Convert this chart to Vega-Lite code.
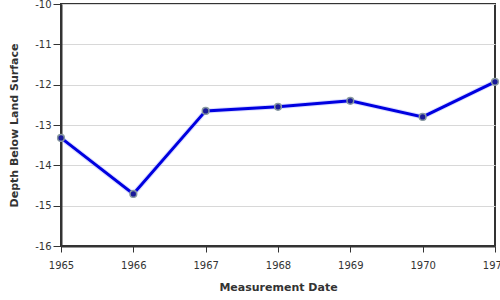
{
  "$schema": "https://vega.github.io/schema/vega-lite/v6.json",
  "autosize": "none",
  "width": 434,
  "height": 242,
  "padding": {"left": 61, "top": 4, "right": 5, "bottom": 54},
  "background": "white",
  "config": {
    "font": "DejaVu Sans",
    "view": {"stroke": "#333333", "strokeWidth": 2},
    "axis": {
      "labelFont": "DejaVu Sans",
      "labelFontSize": 10,
      "labelColor": "#333333",
      "titleFont": "DejaVu Sans",
      "titleFontSize": 11,
      "titleFontWeight": "bold",
      "titleColor": "#333333",
      "domainColor": "#333333",
      "domainWidth": 2,
      "tickColor": "#333333",
      "tickWidth": 1
    }
  },
  "data": {
    "values": [
      {"year": 1965, "depth": -13.32},
      {"year": 1966, "depth": -14.71},
      {"year": 1967, "depth": -12.65},
      {"year": 1968, "depth": -12.55},
      {"year": 1969, "depth": -12.40},
      {"year": 1970, "depth": -12.80},
      {"year": 1971, "depth": -11.93}
    ]
  },
  "encoding": {
    "x": {
      "field": "year",
      "type": "quantitative",
      "scale": {"domain": [1965, 1971], "nice": false, "zero": false},
      "axis": {"title": "Measurement Date", "format": "d", "values": [1965, 1966, 1967, 1968, 1969, 1970, 1971], "grid": false, "tickSize": 6, "labelPadding": 8, "labelFlush": false, "titlePadding": 11}
    },
    "y": {
      "field": "depth",
      "type": "quantitative",
      "scale": {"domain": [-16, -10], "nice": false, "zero": false},
      "axis": {"title": "Depth Below Land Surface", "values": [-16, -15, -14, -13, -12, -11, -10], "labelExpr": "replace(datum.label, '\u2212', '-')", "labelFlush": false, "grid": true, "gridColor": "#d8d8d8", "tickSize": 8, "labelPadding": 2, "titlePadding": 15}
    }
  },
  "layer": [
    {"mark": {"type": "line", "color": "#9aa0ff", "strokeWidth": 5, "opacity": 0.35}},
    {"mark": {"type": "line", "color": "#0000e0", "strokeWidth": 3}},
    {"mark": {"type": "point", "filled": true, "size": 45, "color": "#1a1a99", "stroke": "#8899a0", "strokeWidth": 1.5, "opacity": 1}}
  ]
}
